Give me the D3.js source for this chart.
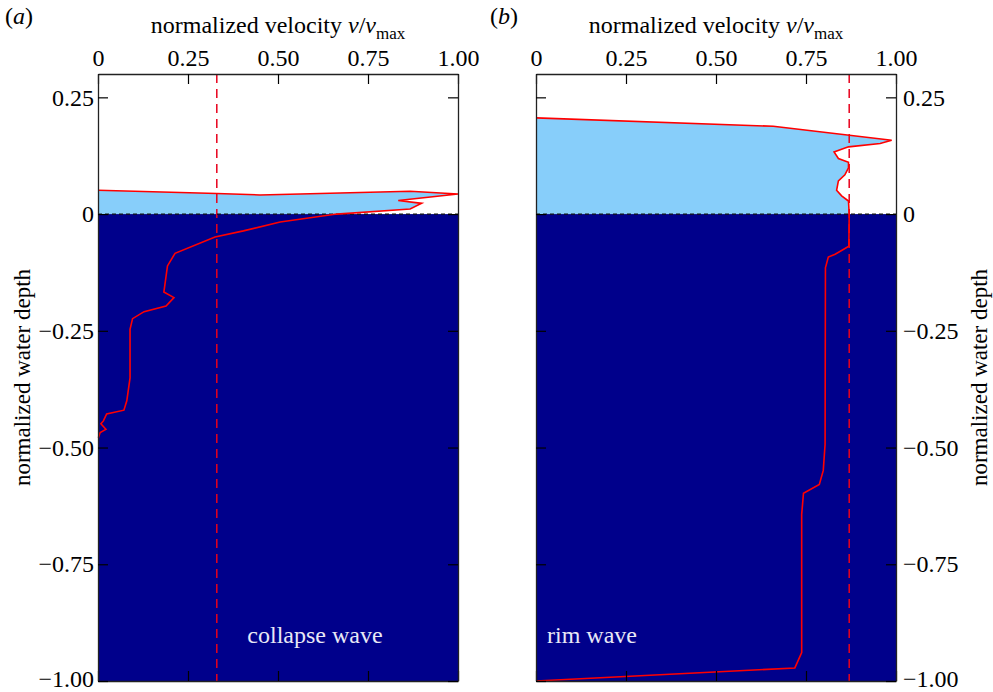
<!DOCTYPE html>
<html>
<head>
<meta charset="utf-8">
<script src="https://cdn.jsdelivr.net/npm/d3@7"></script>
<style>
    body { margin: 0; background: #fff; }
    svg { display: block; font-family: 'Liberation Serif', 'Times New Roman', serif; }
</style>
</head>
<body>
<svg id="chart" width="993" height="692"></svg>
<script>
// velocity ticks (top axis) and depth ticks (side axis)
var velocityTicks = [0, 0.25, 0.5, 0.75, 1];
var depthTicks = [0.25, 0, -0.25, -0.5, -0.75, -1];

// (a) collapse wave profile: normalized velocity, normalized depth
var collapseVelocity = [0, 0.330, 0.450, 0.867, 1.000, 0.834, 0.899, 0.867, 0.663, 0.506, 0.404, 0.325,
    0.214, 0.193, 0.183, 0.211, 0.189, 0.128, 0.096, 0.089, 0.089, 0.080, 0.072, 0.024, 0.015, 0.008,
    0.022, 0.006, 0.001];
var collapseDepth = [0.051, 0.044, 0.041, 0.049, 0.043, 0.029, 0.023, 0.011, 0, -0.017, -0.036, -0.049,
    -0.084, -0.111, -0.167, -0.179, -0.197, -0.209, -0.224, -0.247, -0.351, -0.400, -0.420, -0.428, -0.443,
    -0.449, -0.461, -0.468, -0.479];
var collapseMean = 0.33;

// (b) rim wave profile
var rimVelocity = [0, 0.659, 0.988, 0.956, 0.868, 0.828, 0.840, 0.868, 0.868, 0.858, 0.840, 0.835, 0.849,
    0.868, 0.870, 0.869, 0.831, 0.812, 0.804, 0.803, 0.798, 0.787, 0.743, 0.738, 0.738, 0.719, 0];
var rimDepth = [0.206, 0.188, 0.158, 0.151, 0.144, 0.133, 0.119, 0.111, 0.099, 0.084, 0.071, 0.051, 0.039,
    0.028, 0, -0.069, -0.086, -0.092, -0.115, -0.493, -0.549, -0.579, -0.598, -0.643, -0.939, -0.972, -1.0];
var rimMean = 0.87;

var svg = d3.select('#chart');
var top0 = 74, bottom0 = 681;
var y = d3.scaleLinear().domain([-1, 0.3]).range([bottom0, top0]);

var fmt = function (d) { return d === 0 ? '0' : d3.format('.2f')(d); };

function drawPanel(opts) {
    var x = d3.scaleLinear().domain([0, 1]).range([opts.left, opts.right]);
    var g = svg.append('g');
    var pts = opts.velocity.map(function (v, i) { return [v, opts.depth[i]]; });
    var line = d3.line().x(function (p) { return x(p[0]); }).y(function (p) { return y(p[1]); });

    // water column below the surface
    g.append('rect')
        .attr('x', x(0))
        .attr('y', y(0))
        .attr('width', x(1) - x(0))
        .attr('height', y(-1) - y(0))
        .attr('fill', '#00008b');

    // wave crest above the still water level
    var crest = pts.filter(function (p) { return p[1] >= 0; });
    crest.push([0, 0]);
    g.append('path')
        .attr('d', line(crest) + 'Z')
        .attr('fill', '#87cefa');

    // mean velocity
    g.append('line')
        .attr('x1', x(opts.mean)).attr('x2', x(opts.mean))
        .attr('y1', y(0.3)).attr('y2', y(-1))
        .attr('stroke', '#e8001c')
        .attr('stroke-width', 1.5)
        .attr('stroke-dasharray', '9,6');

    // still water level
    g.append('line')
        .attr('x1', x(0)).attr('x2', x(1))
        .attr('y1', y(0)).attr('y2', y(0))
        .attr('stroke', '#111')
        .attr('stroke-width', 1.2)
        .attr('stroke-dasharray', '4,3');

    g.append('path')
        .attr('d', line(pts))
        .attr('fill', 'none')
        .attr('stroke', '#ff0000')
        .attr('stroke-width', 1.6);

    /* Axes, ticks pointing inwards */
    g.append('g').attr('transform', 'translate(0,' + top0 + ')')
        .call(d3.axisTop(x).tickValues(velocityTicks).tickFormat(fmt).tickSizeInner(-10).tickSizeOuter(0).tickPadding(8));
    g.append('g').attr('transform', 'translate(0,' + bottom0 + ')')
        .call(d3.axisBottom(x).tickValues(velocityTicks).tickFormat('').tickSizeInner(-10).tickSizeOuter(0));

    var axLeft = d3.axisLeft(y).tickValues(depthTicks).tickSizeInner(-10).tickSizeOuter(0);
    var axRight = d3.axisRight(y).tickValues(depthTicks).tickSizeInner(-10).tickSizeOuter(0);
    if (opts.labelsLeft) {
        axLeft.tickFormat(fmt).tickPadding(4);
        axRight.tickFormat('');
    } else {
        axLeft.tickFormat('');
        axRight.tickFormat(fmt).tickPadding(7);
    }
    g.append('g').attr('transform', 'translate(' + opts.left + ',0)').call(axLeft);
    g.append('g').attr('transform', 'translate(' + opts.right + ',0)').call(axRight);

    g.selectAll('.domain').attr('stroke', '#222').attr('stroke-width', 1.3);
    g.selectAll('.tick line').attr('stroke', '#000').attr('stroke-width', 1.2);
    g.selectAll('.tick text')
        .attr('fill', '#000')
        .style('font-family', "'Liberation Serif', serif")
        .style('font-size', '24px')
        .filter(function (d) { return d === -1; })
        .attr('dy', '0.22em');

    // axis title
    var title = g.append('text')
        .attr('x', (opts.left + opts.right) / 2)
        .attr('y', 33)
        .attr('text-anchor', 'middle')
        .style('font-size', '24px');
    title.append('tspan').text('normalized velocity ');
    title.append('tspan').attr('font-style', 'italic').text('v');
    title.append('tspan').text('/');
    title.append('tspan').attr('font-style', 'italic').text('v');
    title.append('tspan').attr('dy', 6).style('font-size', '17px').text('max');

    // panel letter
    var letter = g.append('text')
        .attr('x', opts.letterX)
        .attr('y', 24)
        .style('font-size', '24px');
    letter.append('tspan').text('(');
    letter.append('tspan').attr('font-style', 'italic').text(opts.letter);
    letter.append('tspan').text(')');

    // side title
    g.append('text')
        .attr('transform', 'translate(' + opts.sideX + ',' + y(-0.35) + ') rotate(-90)')
        .attr('text-anchor', 'middle')
        .style('font-size', '23px')
        .text('normalized water depth');

    g.append('text')
        .attr('x', opts.nameX)
        .attr('y', 643)
        .attr('text-anchor', opts.nameAnchor)
        .attr('fill', '#e8e8f6')
        .style('font-size', '24px')
        .text(opts.name);
}

drawPanel({
    left: 98, right: 458,
    velocity: collapseVelocity, depth: collapseDepth, mean: collapseMean,
    labelsLeft: true, letter: 'a', letterX: 5,
    sideX: 30, name: 'collapse wave', nameX: 315, nameAnchor: 'middle'
});

drawPanel({
    left: 536, right: 896,
    velocity: rimVelocity, depth: rimDepth, mean: rimMean,
    labelsLeft: false, letter: 'b', letterX: 490,
    sideX: 987, name: 'rim wave', nameX: 547, nameAnchor: 'start'
});
</script>
</body>
</html>
